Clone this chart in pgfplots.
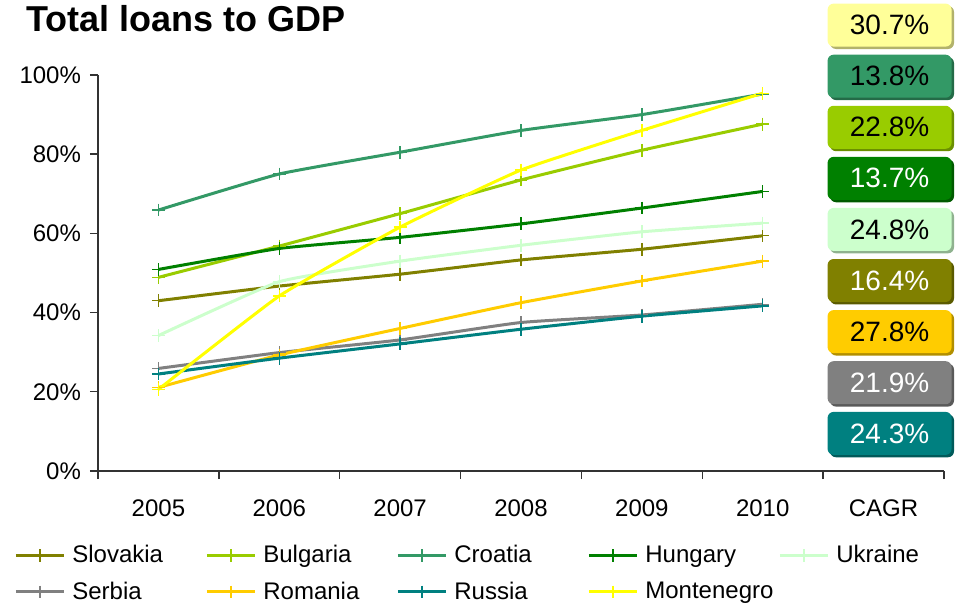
\documentclass[border=0pt]{standalone}
\usepackage{fontspec}
\setmainfont{Liberation Sans}
\usepackage{pgfplots}
\pgfplotsset{compat=1.18}
\usetikzlibrary{shadows}
\definecolor{cSlo}{HTML}{808000}
\definecolor{cBul}{HTML}{99CC00}
\definecolor{cCro}{HTML}{339966}
\definecolor{cHun}{HTML}{008000}
\definecolor{cUkr}{HTML}{CCFFCC}
\definecolor{cSer}{HTML}{808080}
\definecolor{cRom}{HTML}{FFCC00}
\definecolor{cRus}{HTML}{008080}
\definecolor{cMon}{HTML}{FFFF00}
\definecolor{cMonBox}{HTML}{FFFF99}
\tikzset{
  cbox/.style 2 args={draw=none, fill=#1, rounded corners=3pt, minimum width=62pt,
    minimum height=21.5pt, inner sep=0pt, text=#2, font=\fontsize{14}{16}\selectfont,
    drop shadow={shadow xshift=1.2pt, shadow yshift=-1.2pt, fill=#1!70!black, opacity=1}}
}
\pgfplotsset{
  ser/.style={color=#1, line width=1.5pt, mark=+, mark size=3.2pt,
    mark options={line width=0.7pt}, smooth, tension=0.25}
}
\begin{document}
\begin{tikzpicture}[font=\fontsize{12}{14}\selectfont]
\begin{axis}[
  scale only axis, width=423pt, height=198pt,
  xmin=-0.5, xmax=6.5, ymin=0, ymax=100,
  clip=false,
  axis x line*=bottom, axis y line*=left,
  axis line style={black!80, line width=0.7pt},
  xtick={-0.5,0.5,1.5,2.5,3.5,4.5,5.5,6.5},
  x tick label as interval,
  xticklabels={2005,2006,2007,2008,2009,2010,CAGR},
  ytick={0,20,40,60,80,100},
  yticklabel={\pgfmathprintnumber{\tick}\%},
  /pgf/number format/assume math mode=true,
  tick align=outside, major tick length=4pt,
  tick style={black!80, line width=0.7pt},
  xticklabel style={yshift=-7pt},
  yticklabel style={xshift=-1pt},
  legend columns=5,
  legend style={at={(0,0)}, anchor=north west, xshift=-42pt, yshift=-37pt,
    draw=none, fill=none, inner sep=0pt, row sep=8pt,
    nodes={inner sep=0pt, anchor=west}},
  legend image code/.code={\draw[#1, mark repeat=2, mark phase=2]
    plot coordinates {(0pt,0pt) (12pt,0pt) (24pt,0pt)};},
  /tikz/every odd column/.style={column sep=3.5pt},
]
\addplot[ser=cSlo] coordinates {(0,43.0) (1,46.7) (2,49.7) (3,53.3) (4,56.0) (5,59.4)};
\addlegendentry{\makebox[66.5pt][l]{Slovakia}}
\addplot[ser=cBul] coordinates {(0,48.9) (1,56.8) (2,65.0) (3,73.5) (4,81.0) (5,87.6)};
\addlegendentry{\makebox[66.5pt][l]{Bulgaria}}
\addplot[ser=cCro] coordinates {(0,65.9) (1,75.0) (2,80.5) (3,86.0) (4,90.0) (5,95.2)};
\addlegendentry{\makebox[66.5pt][l]{Croatia}}
\addplot[ser=cHun] coordinates {(0,50.9) (1,56.2) (2,59.0) (3,62.4) (4,66.4) (5,70.6)};
\addlegendentry{\makebox[66.5pt][l]{Hungary}}
\addplot[ser=cUkr] coordinates {(0,34.2) (1,47.8) (2,53.0) (3,57.0) (4,60.4) (5,62.6)};
\addlegendentry{Ukraine}
\addplot[ser=cSer] coordinates {(0,25.9) (1,29.9) (2,33.1) (3,37.5) (4,39.4) (5,42.1)};
\addlegendentry{\makebox[66.5pt][l]{Serbia}}
\addplot[ser=cRom] coordinates {(0,21.1) (1,29.3) (2,36.0) (3,42.5) (4,48.0) (5,53.0)};
\addlegendentry{\makebox[66.5pt][l]{Romania}}
\addplot[ser=cRus] coordinates {(0,24.5) (1,28.5) (2,32.1) (3,35.8) (4,39.1) (5,41.7)};
\addlegendentry{\makebox[66.5pt][l]{Russia}}
\addplot[ser=cMon] coordinates {(0,20.6) (1,44.2) (2,61.6) (3,76.0) (4,86.0) (5,95.4)};
\addlegendentry{\makebox[66.5pt][l]{Montenegro}}

\node[cbox={cMonBox}{black}] at (axis cs:6.05,112.6) {30.7\%};
\node[cbox={cCro}{black}]    at (axis cs:6.05,99.7) {13.8\%};
\node[cbox={cBul}{black}]    at (axis cs:6.05,86.8) {22.8\%};
\node[cbox={cHun}{white}]    at (axis cs:6.05,73.9) {13.7\%};
\node[cbox={cUkr}{black}]    at (axis cs:6.05,61.0) {24.8\%};
\node[cbox={cSlo}{white}]    at (axis cs:6.05,48.1) {16.4\%};
\node[cbox={cRom}{black}]    at (axis cs:6.05,35.2) {27.8\%};
\node[cbox={cSer}{white}]    at (axis cs:6.05,22.3) {21.9\%};
\node[cbox={cRus}{white}]    at (axis cs:6.05,9.5) {24.3\%};

\node[anchor=base west, inner sep=0pt, font=\fontsize{18}{21}\selectfont\bfseries]
  at ([xshift=-36pt, yshift=21.5pt]rel axis cs:0,1) {Total loans to GDP};
\path ([xshift=-49pt, yshift=235.5pt]rel axis cs:0,0) rectangle ([xshift=430.5pt, yshift=-67pt]rel axis cs:0,0);
\end{axis}
\end{tikzpicture}
\end{document}
